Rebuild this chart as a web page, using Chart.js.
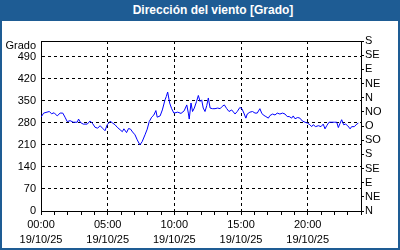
<!DOCTYPE html>
<html><head><meta charset="utf-8">
<script src="https://cdn.jsdelivr.net/npm/chart.js@4"></script>
<style>
html,body{margin:0;padding:0;background:#fff;}
#wrap{position:relative;width:400px;height:250px;overflow:hidden;background:#fff;}
#frame{position:absolute;left:0;top:0;width:396px;height:248px;border:2px solid #1e5c94;border-top:none;}
#head{position:absolute;left:0;top:0;width:374px;padding-left:26px;height:21px;background:#1e5c94;color:#fff;font:bold 12px "Liberation Sans",Arial,sans-serif;text-align:center;line-height:21px;}
canvas{position:absolute;left:0;top:0;}
</style></head>
<body><div id="wrap"><div id="frame"></div><div id="head">Dirección del viento [Grado]</div><canvas id="c" width="400" height="250"></canvas></div>
<script>
const minutes = [0,12,37,48,59,73,86,98,108,118,131,145,163,169,178,190,208,221,233,243,255,266,277,288,298,311,323,333,343,356,366,373,385,394,403,412,423,433,445,455,468,478,487,498,508,517,523,536,546,558,564,570,579,588,598,615,630,644,656,663,667,675,682,690,700,708,716,723,730,738,746,753,761,771,783,795,806,815,825,836,846,858,870,873,883,895,904,913,922,928,940,952,963,973,985,993,1000,1012,1023,1030,1042,1053,1063,1075,1087,1098,1108,1117,1128,1135,1143,1155,1165,1176,1188,1200,1210,1218,1225,1236,1248,1260,1270,1278,1286,1296,1308,1320,1331,1338,1346,1353,1362,1371,1380,1391,1398,1410,1421,1428];
const degrees = [298,311,316,309,312,302,311,311,298,284,287,282,282,292,281,276,276,286,277,266,263,271,263,255,274,285,279,274,266,258,252,261,249,262,260,251,242,226,210,220,242,260,284,298,305,319,298,302,321,353,364,378,343,325,311,314,310,318,337,311,292,343,316,327,348,367,348,353,327,316,335,359,327,325,325,327,325,332,337,325,316,321,311,308,316,329,325,311,295,308,314,316,311,311,325,311,305,300,295,303,308,305,311,308,311,308,300,300,295,302,293,297,295,286,282,279,274,268,274,268,271,268,276,261,271,282,282,282,282,265,279,290,274,276,271,261,268,268,276,279];
const gradeTicks = [0,70,140,210,280,350,420,490];
const compassTicks = [0,45,90,135,180,225,270,315,360,405,450,495,540];
const compassLabels = ['N','NE','E','SE','S','SO','O','NO','N','NE','E','SE','S'];
const hourTicks = [0,60,120,180,240,300,360,420,480,540,600,660,720,780,840,900,960,1020,1080,1140,1200,1260,1320,1380,1440];
const majorTimes = {0:'00:00',300:'05:00',600:'10:00',900:'15:00',1200:'20:00'};
const dateLabel = '19/10/25';
const axisTitle = 'Grado';

const FONT = {family:'"Liberation Sans", Arial, sans-serif', size:11, lineHeight:15/11};
const clear = 'rgba(0,0,0,0)';

const frameBox = {
  id:'frameBox',
  afterDraw(chart){
    const {ctx, chartArea:a} = chart;
    ctx.save();
    ctx.strokeStyle = '#000'; ctx.lineWidth = 1;
    ctx.beginPath(); ctx.moveTo(a.left, Math.floor(a.top)+0.5); ctx.lineTo(a.right, Math.floor(a.top)+0.5); ctx.stroke();
    ctx.fillStyle = '#000';
    ctx.font = '11px "Liberation Sans", Arial, sans-serif';
    ctx.textAlign = 'right'; ctx.textBaseline = 'middle';
    ctx.fillText(axisTitle, a.left - 5, a.top + 5);
    ctx.restore();
  }
};

new Chart(document.getElementById('c'), {
  type:'line',
  data:{datasets:[{
    data: minutes.map((m,i)=>({x:m, y:degrees[i]})),
    borderColor:'#0000ff', borderWidth:1, pointRadius:0, tension:0, fill:false
  }]},
  options:{
    responsive:false, devicePixelRatio:1, animation:false,
    layout:{padding:{top:41,left:0,right:0,bottom:0}},
    plugins:{legend:{display:false}, tooltip:{enabled:false}},
    scales:{
      x:{
        type:'linear', position:'bottom', min:0, max:1440,
        afterBuildTicks(s){ s.ticks = hourTicks.map(v=>({value:v})); },
        afterFit(s){ s.height = 39; },
        ticks:{
          autoSkip:false, maxRotation:0, minRotation:0, color:'#000', font:FONT, padding:2,
          callback(v){ return (majorTimes[v] !== undefined) ? [majorTimes[v], dateLabel] : ''; }
        },
        grid:{
          color(ctx){ const v = ctx.tick && ctx.tick.value; return (v>0 && v<1440 && v%300===0) ? '#000' : clear; },
          tickColor:'#000', tickLength:4, lineWidth:1, drawTicks:true
        },
        border:{display:true, color:'#000', width:1, dash:[3,3]}
      },
      y:{
        type:'linear', position:'left', min:0, max:540,
        afterBuildTicks(s){ s.ticks = gradeTicks.map(v=>({value:v})); },
        afterFit(s){ s.width = 41; },
        ticks:{autoSkip:false, color:'#000', font:FONT, padding:5},
        grid:{
          color(ctx){ const v = ctx.tick && ctx.tick.value; return v>0 ? '#000' : clear; },
          drawTicks:false, lineWidth:1
        },
        border:{display:true, color:'#000', width:1, dash:[3,3]}
      },
      y2:{
        type:'linear', position:'right', min:0, max:540,
        afterBuildTicks(s){ s.ticks = compassTicks.map(v=>({value:v})); },
        afterFit(s){ s.width = 39; },
        ticks:{autoSkip:false, color:'#000', font:FONT, padding:1, callback(v,i){ return compassLabels[i]; }},
        grid:{drawOnChartArea:false, drawTicks:true, tickLength:3, tickColor:'#000', color:'#000'},
        border:{display:true, color:'#000', width:1}
      }
    }
  },
  plugins:[frameBox]
});
</script>
</body></html>
